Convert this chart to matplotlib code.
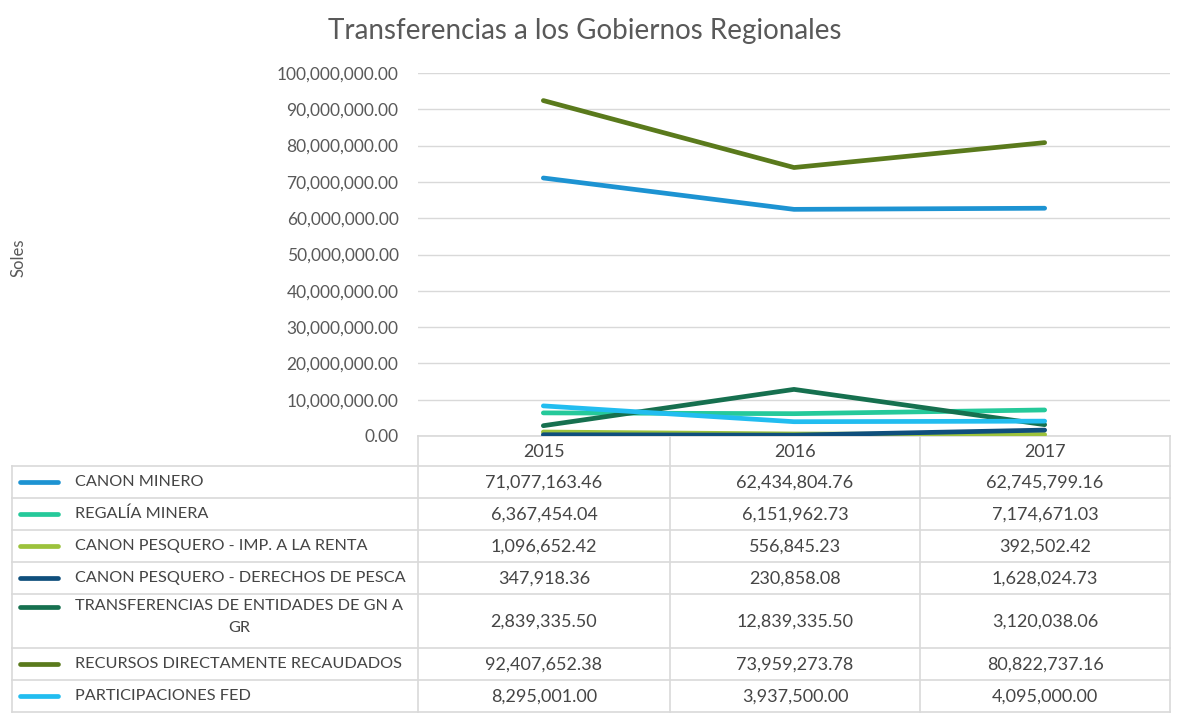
import matplotlib
matplotlib.use("Agg")
import matplotlib.pyplot as plt
from matplotlib.lines import Line2D

# ---- data ----
years = ["2015", "2016", "2017"]
series_names = [
    "CANON MINERO",
    "REGALÍA MINERA",
    "CANON PESQUERO - IMP. A LA RENTA",
    "CANON PESQUERO - DERECHOS DE PESCA",
    "TRANSFERENCIAS DE ENTIDADES DE GN A\nGR",
    "RECURSOS DIRECTAMENTE RECAUDADOS",
    "PARTICIPACIONES FED",
]
canon_minero = [71077163.46, 62434804.76, 62745799.16]
regalia_minera = [6367454.04, 6151962.73, 7174671.03]
canon_pesq_renta = [1096652.42, 556845.23, 392502.42]
canon_pesq_derechos = [347918.36, 230858.08, 1628024.73]
transferencias_gn = [2839335.50, 12839335.50, 3120038.06]
recursos_directos = [92407652.38, 73959273.78, 80822737.16]
participaciones_fed = [8295001.00, 3937500.00, 4095000.00]
series_values = [canon_minero, regalia_minera, canon_pesq_renta,
                 canon_pesq_derechos, transferencias_gn, recursos_directos,
                 participaciones_fed]
y_ticks = [0, 10e6, 20e6, 30e6, 40e6, 50e6, 60e6, 70e6, 80e6, 90e6, 100e6]

colors = ["#1d93d2", "#25c99a", "#9cc23c", "#0f4f7c", "#16704f", "#5a7a1c", "#22bdf0"]

W, H = 1178, 713
plt.rcParams['font.family'] = ['Lato', 'DejaVu Sans']
fig = plt.figure(figsize=(W / 100, H / 100), dpi=100)
fig.patch.set_facecolor("white")

txt = "#595959"
grid_c = "#d9d9d9"

# plot area in pixels
x0, x1 = 418, 1170
y_top, y_bot = 73, 436
ax = fig.add_axes([x0 / W, 1 - y_bot / H, (x1 - x0) / W, (y_bot - y_top) / H])
xs = list(range(len(years)))
# overlay for titles/table
ov = fig.add_axes([0, 0, 1, 1], zorder=-1)
ov.set_xlim(0, W)
ov.set_ylim(H, 0)
ov.axis("off")

LW = 3.4
order = [0, 1, 2, 3, 4, 6, 5]
for i in order:
    ax.plot(xs, series_values[i], color=colors[i], lw=LW,
            solid_capstyle="round", solid_joinstyle="round", zorder=3)

ax.set_xlim(-0.5, len(years) - 0.5)
ax.set_ylim(0, 100e6)
ax.set_yticks(y_ticks)
ax.set_yticklabels([f"{v:,.2f}" for v in y_ticks], fontsize=12.5, color=txt)
ax.set_xticks([])
ax.tick_params(axis="y", length=0, pad=14)
for s in ax.spines.values():
    s.set_visible(False)
ax.yaxis.grid(True, color=grid_c, lw=1)
ax.set_axisbelow(True)
ax.patch.set_alpha(0)

# title and axis label
ov.text(585, 31, "Transferencias a los Gobiernos Regionales", ha="center",
        va="center", fontsize=20, color=txt)
ov.text(18, 258, "Soles", rotation=90, ha="center", va="center",
        fontsize=12, color=txt)

# ---- data table ----
tbl_left = 12
col_edges = [x0, 670, 920, x1]
row_edges = [y_bot, 466, 498, 530, 562, 594, 648, 680, 712]

def hline(y, xa, xb):
    ov.add_line(Line2D([xa, xb], [y, y], color=grid_c, lw=1.2))

def vline(x, ya, yb):
    ov.add_line(Line2D([x, x], [ya, yb], color=grid_c, lw=1.2))

hline(row_edges[0], x0, x1)
for y in row_edges[1:]:
    hline(y, tbl_left, x1)
vline(tbl_left, row_edges[1], row_edges[-1])
for x in col_edges:
    vline(x, row_edges[0], row_edges[-1])

val_c = "#454545"
for j, yr in enumerate(years):
    cx = (col_edges[j] + col_edges[j + 1]) / 2
    ov.text(cx, (row_edges[0] + row_edges[1]) / 2 + 1, yr, ha="center",
            va="center", fontsize=13, color=val_c)

for i, name in enumerate(series_names):
    ya, yb = row_edges[i + 1], row_edges[i + 2]
    cy = (ya + yb) / 2
    ov.add_line(Line2D([20, 58], [cy if "\n" not in name else ya + 13] * 2,
                       color=colors[i], lw=LW, solid_capstyle="round"))
    if "\n" in name:
        ov.text(75, ya + 5, name, ha="left", va="top", multialignment="center",
                fontsize=11.7, color=val_c, linespacing=1.75)
    else:
        ov.text(75, cy, name, ha="left", va="center", fontsize=11.7, color=val_c)
    for j in range(len(years)):
        cx = (col_edges[j] + col_edges[j + 1]) / 2
        ov.text(cx, cy + 1, f"{series_values[i][j]:,.2f}", ha="center",
                va="center", fontsize=13, color=val_c)

fig.savefig("out.png", dpi=100, facecolor="white")
